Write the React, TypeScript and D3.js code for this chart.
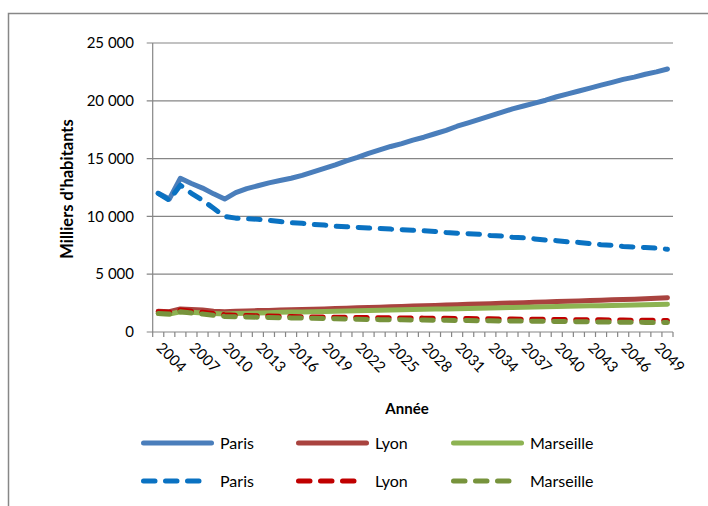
import React from "react";
import * as d3 from "d3";

const years: number[] = d3.range(2004, 2051);
const tickYears = [2004, 2007, 2010, 2013, 2016, 2019, 2022, 2025, 2028, 2031, 2034, 2037, 2040, 2043, 2046, 2049];
const yTicks = [0, 5000, 10000, 15000, 20000, 25000];

const parisSolid = [12.0, 11.5, 13.3, 12.85, 12.45, 11.95, 11.5, 12.05, 12.4, 12.65, 12.9, 13.1, 13.3, 13.55, 13.85, 14.15, 14.45, 14.8, 15.1, 15.45, 15.75, 16.05, 16.3, 16.6, 16.85, 17.15, 17.45, 17.8, 18.1, 18.4, 18.7, 19.0, 19.3, 19.55, 19.8, 20.05, 20.35, 20.6, 20.85, 21.1, 21.35, 21.6, 21.85, 22.05, 22.3, 22.5, 22.75];
const lyonSolid = [1.8, 1.75, 2.0, 1.95, 1.9, 1.8, 1.75, 1.8, 1.82, 1.85, 1.87, 1.9, 1.92, 1.95, 1.97, 2.0, 2.03, 2.06, 2.09, 2.12, 2.15, 2.18, 2.21, 2.24, 2.27, 2.3, 2.33, 2.36, 2.39, 2.42, 2.45, 2.48, 2.51, 2.54, 2.57, 2.6, 2.63, 2.66, 2.69, 2.72, 2.75, 2.78, 2.81, 2.84, 2.88, 2.92, 2.96];
const marseilleSolid = [1.6, 1.55, 1.75, 1.7, 1.65, 1.6, 1.55, 1.6, 1.62, 1.65, 1.67, 1.7, 1.72, 1.74, 1.76, 1.78, 1.8, 1.82, 1.84, 1.86, 1.88, 1.9, 1.92, 1.94, 1.96, 1.98, 2.0, 2.02, 2.04, 2.06, 2.08, 2.1, 2.12, 2.14, 2.16, 2.18, 2.2, 2.22, 2.24, 2.26, 2.28, 2.3, 2.32, 2.34, 2.36, 2.38, 2.4];
const parisDashed = [12.0, 11.4, 12.7, 12.0, 11.4, 10.7, 10.0, 9.85, 9.8, 9.75, 9.65, 9.55, 9.45, 9.4, 9.3, 9.25, 9.15, 9.1, 9.05, 9.0, 8.95, 8.9, 8.85, 8.8, 8.75, 8.7, 8.6, 8.55, 8.5, 8.45, 8.35, 8.3, 8.2, 8.15, 8.05, 7.95, 7.9, 7.8, 7.75, 7.65, 7.55, 7.5, 7.4, 7.35, 7.3, 7.25, 7.15];
const lyonDashed = [1.75, 1.7, 1.9, 1.8, 1.7, 1.6, 1.5, 1.45, 1.42, 1.4, 1.38, 1.36, 1.34, 1.32, 1.3, 1.29, 1.28, 1.27, 1.26, 1.25, 1.24, 1.23, 1.22, 1.21, 1.2, 1.19, 1.18, 1.17, 1.16, 1.15, 1.14, 1.13, 1.12, 1.11, 1.1, 1.09, 1.08, 1.07, 1.06, 1.05, 1.05, 1.04, 1.03, 1.02, 1.02, 1.01, 1.0];
const marseilleDashed = [1.6, 1.55, 1.75, 1.65, 1.55, 1.45, 1.35, 1.32, 1.3, 1.28, 1.26, 1.24, 1.22, 1.2, 1.18, 1.16, 1.14, 1.12, 1.1, 1.08, 1.07, 1.06, 1.05, 1.04, 1.03, 1.02, 1.01, 1.0, 0.99, 0.98, 0.97, 0.96, 0.95, 0.94, 0.93, 0.92, 0.91, 0.9, 0.89, 0.88, 0.87, 0.86, 0.85, 0.84, 0.83, 0.83, 0.82];

const seriesNames = ["Paris", "Lyon", "Marseille"];

const FONT = "Lato, 'Open Sans', sans-serif";

export default function App() {
  const W = 708, H = 506;
  const left = 152.7, right = 673, top = 43, bottom = 332;
  const x = d3.scaleBand<number>().domain(years).range([left, right]);
  const y = d3.scaleLinear().domain([0, 25000]).range([bottom, top]);
  const cx = (yr: number) => (x(yr) as number) + x.bandwidth() / 2;
  const line = d3.line<number>().x((_, i) => cx(years[i])).y((v) => y(v * 1000));

  const series = [
    { name: "Paris", data: parisSolid, color: "#4A7EBB", dash: false },
    { name: "Lyon", data: lyonSolid, color: "#A9433F", dash: false },
    { name: "Marseille", data: marseilleSolid, color: "#8DB352", dash: false },
    { name: "Paris", data: parisDashed, color: "#0A72C2", dash: true },
    { name: "Lyon", data: lyonDashed, color: "#C00000", dash: true },
    { name: "Marseille", data: marseilleDashed, color: "#77933C", dash: true },
  ];
  const gray = "#868686";
  const dashArr = "11.5 10.5";
  const fmt = (v: number) => d3.format(",")(v).replace(/,/g, " ");
  const boundaries = years.map((yr) => x(yr) as number).concat([right]);

  const legendX = [141, 296, 451];
  const legendY = [443, 481];

  return (
    <svg width={W} height={H} style={{ position: "absolute", left: 0, top: 0, background: "#fff" }} fontFamily={FONT}>
      <rect x={8.5} y={13.5} width={760} height={560} fill="#fff" stroke="#878787" strokeWidth={1.5} />
      {yTicks.map((t) => (
        <g key={t}>
          <line x1={left - 6} x2={right} y1={y(t)} y2={y(t)} stroke={gray} strokeWidth={1.2} />
          <text x={134} y={y(t)} dy="0.35em" textAnchor="end" fontSize={15} fill="#000">{fmt(t)}</text>
        </g>
      ))}
      <line x1={left} x2={left} y1={top} y2={bottom} stroke={gray} strokeWidth={1.2} />
      {boundaries.map((bx, i) => (
        <line key={i} x1={bx} x2={bx} y1={bottom} y2={bottom + 5} stroke={gray} strokeWidth={1.2} />
      ))}
      {tickYears.map((yr) => (
        <text key={yr} transform={`translate(${cx(yr) + 1},${bottom + 13}) rotate(45)`} fontSize={15} dy="0.35em" fill="#000">{yr}</text>
      ))}
      {series.map((s, i) => (
        <path key={i} d={line(s.data) || ""} fill="none" stroke={s.color} strokeWidth={5}
          strokeLinejoin="round" strokeLinecap="round" strokeDasharray={s.dash ? dashArr : undefined} />
      ))}
      <text transform={`translate(73,189) rotate(-90)`} textAnchor="middle" fontSize={16.5} fontWeight="bold" fill="#000">Milliers d'habitants</text>
      <text x={407} y={414} textAnchor="middle" fontSize={15} fontWeight="bold" fill="#000">Année</text>
      {series.map((s, i) => {
        const row = s.dash ? 1 : 0;
        const col = i % 3;
        const lx = legendX[col];
        const ly = legendY[row];
        return (
          <g key={"lg" + i}>
            <line x1={lx + 2.5} x2={s.dash ? lx + 60.5 : lx + 70.5} y1={ly} y2={ly} stroke={s.color} strokeWidth={5}
              strokeLinecap="round" strokeDasharray={s.dash ? dashArr : undefined} />
            <text x={lx + 79} y={ly} dy="0.35em" fontSize={16} fill="#000">{seriesNames[col]}</text>
          </g>
        );
      })}
    </svg>
  );
}
